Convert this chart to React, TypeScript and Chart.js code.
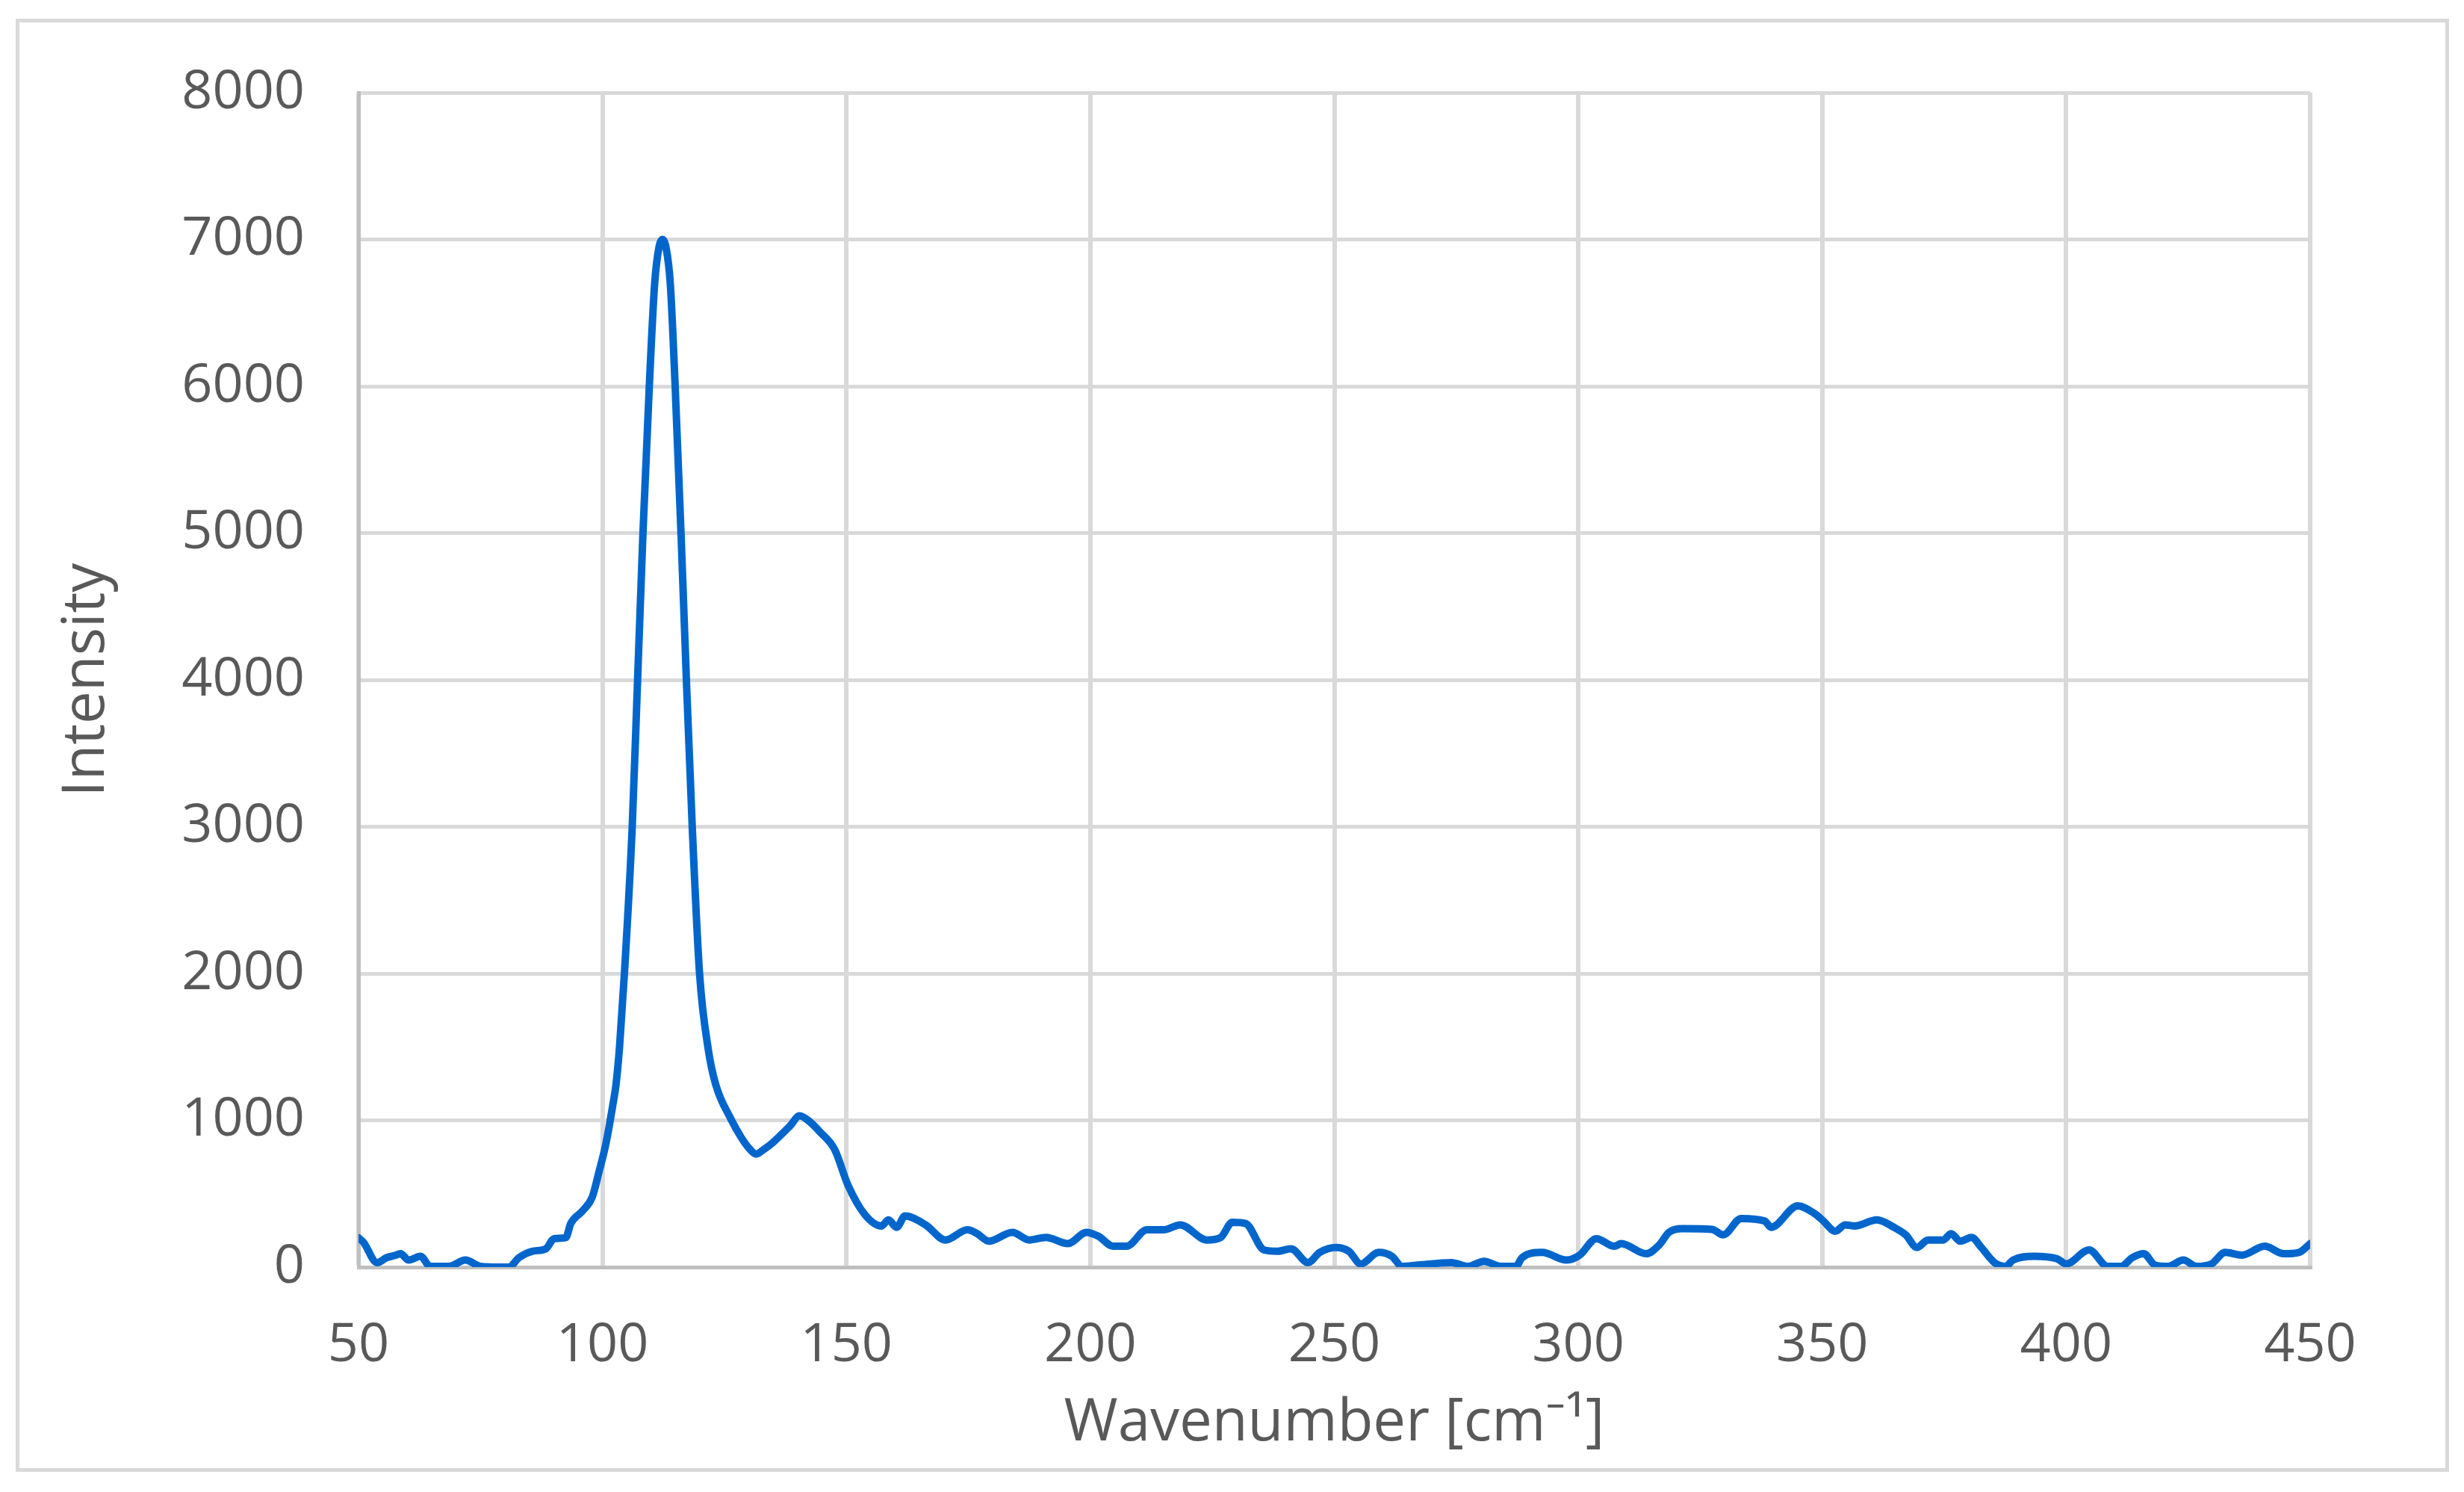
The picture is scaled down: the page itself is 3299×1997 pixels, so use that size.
import React, { useEffect, useRef } from 'react';
import { Chart, registerables } from 'chart.js';

Chart.register(...registerables);

// Raman spectrum
const wavenumbers = [
  50.0, 51.0, 53.8, 55.8, 57.5, 58.6, 60.3, 62.7, 64.7, 68.5, 71.9, 75.0, 78.8, 80.8, 82.9, 85.6, 88.4,
  90.1, 92.5, 93.5, 95.9, 97.9, 99.3, 100.7, 102.1, 102.8, 103.5, 104.5, 106.1, 107.2, 108.3, 109.6,
  110.7, 111.6, 112.3, 113.0, 113.9, 114.9, 116.1, 117.2, 118.4, 119.9, 121.7, 123.2, 126.3, 128.5,
  130.3, 131.5, 133.0, 134.8, 138.4, 140.4, 142.5, 144.6, 147.6, 150.3, 153.8, 157.2, 158.6, 160.3,
  162.0, 166.2, 170.3, 174.8, 176.8, 179.2, 184.0, 187.5, 190.9, 195.4, 199.2, 201.6, 204.7, 207.4,
  211.6, 215.0, 218.4, 223.9, 226.7, 229.1, 231.8, 235.6, 238.4, 241.1, 244.6, 247.0, 250.3, 253.0,
  255.4, 259.1, 261.8, 263.9, 267.2, 274.0, 277.4, 280.7, 284.1, 287.2, 288.5, 292.6, 297.6, 300.3,
  303.7, 307.4, 308.8, 313.9, 316.6, 318.6, 321.3, 327.4, 329.7, 333.4, 338.2, 339.5, 345.0, 348.4,
  350.0, 352.7, 354.7, 356.6, 361.2, 364.7, 367.1, 369.4, 371.7, 374.8, 376.4, 378.3, 380.6, 382.6,
  385.3, 387.6, 389.1, 393.4, 398.1, 400.0, 404.7, 408.5, 411.2, 413.6, 415.9, 418.2, 420.9, 424.0,
  426.7, 429.8, 432.6, 436.0, 440.7, 444.6, 447.7, 450.0,
];

const intensities = [
  200, 170, 31, 65, 80, 91, 48, 74, 5, 5, 48, 5, 0, 0, 65, 108, 125,
  194, 202, 297, 382, 477, 650, 840, 1100, 1250, 1500, 2000, 3000, 4000, 5000, 6000,
  6700, 6950, 7000, 6950, 6700, 6000, 5000, 4000, 3000, 2000, 1480, 1245, 1010, 880,
  800, 770, 800, 845, 960, 1030, 990, 920, 800, 560, 357, 280, 322, 271,
  348, 288, 185, 254, 228, 177, 237, 185, 202, 160, 237, 211, 142, 142,
  254, 254, 288, 185, 202, 305, 297, 117, 108, 125, 31, 100, 134, 108,
  22, 100, 74, 5, 14, 31, 5, 40, 5, 5, 65, 100, 48, 82,
  194, 142, 160, 91, 151, 237, 262, 257, 220, 331, 314, 271, 417, 365,
  322, 245, 288, 280, 322, 271, 220, 134, 185, 185, 228, 177, 202, 134,
  31, 5, 48, 74, 57, 22, 117, 5, 5, 65, 91, 14, 5, 48,
  5, 22, 100, 82, 142, 91, 100, 160,
];

const xTickValues = [50, 100, 150, 200, 250, 300, 350, 400, 450];
const yTickValues = [0, 1000, 2000, 3000, 4000, 5000, 6000, 7000, 8000];

const xTitle = 'Wavenumber [cm\u207B\u00B9]';
const yTitle = 'Intensity';

const W = 3299;
const H = 1997;
const FONT = '"Open Sans", "Noto Sans", sans-serif';
const TEXT = '#595959';
const GRID = '#d9d9d9';
const AXIS = '#bfbfbf';

export default function App() {
  const ref = useRef<HTMLCanvasElement>(null);

  useEffect(() => {
    document.body.style.margin = '0';
    const canvas = ref.current;
    if (!canvas) return;
    const chart = new Chart(canvas, {
      type: 'line',
      data: {
        datasets: [
          {
            label: 'Intensity',
            data: wavenumbers.map((x, i) => ({ x, y: intensities[i] })),
            borderColor: '#0066cc',
            borderWidth: 10,
            pointRadius: 0,
            fill: false,
            cubicInterpolationMode: 'monotone',
            borderJoinStyle: 'round',
            borderCapStyle: 'round',
          },
        ],
      },
      options: {
        animation: false,
        responsive: false,
        devicePixelRatio: 1,
        layout: { padding: { left: 0, top: 124, right: W - 3093, bottom: 0 } },
        plugins: { legend: { display: false }, tooltip: { enabled: false } },
        scales: {
          x: {
            type: 'linear',
            min: 50,
            max: 450,
            afterBuildTicks: (s: any) => {
              s.ticks = xTickValues.map((v) => ({ value: v }));
            },
            afterFit: (s: any) => {
              s.height = H - 1696;
              s.paddingLeft = 0;
              s.paddingRight = 0;
            },
            grid: { color: GRID, lineWidth: 6, drawTicks: false },
            border: { color: AXIS, width: 5 },
            ticks: {
              color: TEXT,
              font: { family: FONT, size: 72 },
              padding: 62,
              maxRotation: 0,
              autoSkip: false,
              callback: (v: any) => String(v),
            },
            title: {
              display: true,
              text: xTitle,
              color: TEXT,
              font: { family: FONT, size: 78 },
              padding: { top: 0, bottom: 44 },
            },
          },
          y: {
            type: 'linear',
            min: 0,
            max: 8000,
            afterBuildTicks: (s: any) => {
              s.ticks = yTickValues.map((v) => ({ value: v }));
            },
            afterFit: (s: any) => {
              s.width = 480;
              s.paddingTop = 0;
              s.paddingBottom = 0;
            },
            grid: { color: GRID, lineWidth: 5, drawTicks: false },
            border: { color: AXIS, width: 5 },
            ticks: {
              color: TEXT,
              font: { family: FONT, size: 72 },
              padding: 72,
              autoSkip: false,
              callback: (v: any) => String(v),
            },
            title: {
              display: true,
              text: yTitle,
              color: TEXT,
              font: { family: FONT, size: 78 },
              padding: { top: 70, bottom: 0 },
            },
          },
        },
      },
    });
    return () => chart.destroy();
  }, []);

  return (
    <div style={{ position: 'fixed', left: 0, top: 0, width: W, height: H, background: '#ffffff', overflow: 'hidden' }}>
      <canvas ref={ref} width={W} height={H} style={{ position: 'absolute', left: 0, top: 0, width: W, height: H }} />
      <div
        style={{
          position: 'absolute',
          left: 21,
          top: 25,
          width: 3279 - 21,
          height: 1970 - 25,
          border: '5px solid #d9d9d9',
          boxSizing: 'border-box',
          pointerEvents: 'none',
        }}
      />
    </div>
  );
}
